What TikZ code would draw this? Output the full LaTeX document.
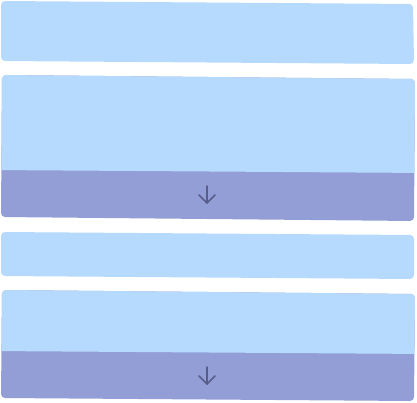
\documentclass[tikz,border=0pt]{standalone}
\definecolor{lightb}{RGB}{181,218,254}
\definecolor{darkb}{RGB}{148,158,214}
\definecolor{arrowc}{RGB}{88,94,138}
\tikzset{
  boxfill/.style={fill=lightb, rounded corners=4pt},
  lowfill/.style={fill=darkb, rounded corners=4pt},
  downarrow/.style={draw=arrowc, line width=1.5pt, line cap=round, line join=round}
}
\begin{document}
\begin{tikzpicture}[x=1pt,y=-1pt]
\useasboundingbox (0,0) rectangle (417,402);
% box 1
\fill[boxfill] (1,1) -- (413,4) -- (414,64) -- (1,61) -- cycle;
% box 2
\fill[lowfill] (2,75) -- (415,79) -- (414,221) -- (1,217) -- cycle;
\begin{scope}
  \clip (-10,-10) -- (430,-10) -- (430,173) -- (-10,170) -- cycle;
  \fill[boxfill] (2,75) -- (415,79) -- (414,221) -- (1,217) -- cycle;
\end{scope}
\coordinate (a1s) at (207,186);
\coordinate (a1e) at (207,203);
\draw[downarrow] (a1s) -- (a1e);
\draw[downarrow] ([xshift=-8pt,yshift=8pt]a1e) -- (a1e) -- ([xshift=8pt,yshift=8pt]a1e);
% box 3
\fill[boxfill] (1,232) -- (414,235) -- (414,279) -- (1,276) -- cycle;
% box 4
\fill[lowfill] (2,290) -- (415,294) -- (414,401) -- (1,398) -- cycle;
\begin{scope}
  \clip (-10,280) -- (430,280) -- (430,354) -- (-10,351) -- cycle;
  \fill[boxfill] (2,290) -- (415,294) -- (414,401) -- (1,398) -- cycle;
\end{scope}
\coordinate (a2s) at (207,367);
\coordinate (a2e) at (207,384);
\draw[downarrow] (a2s) -- (a2e);
\draw[downarrow] ([xshift=-8pt,yshift=8pt]a2e) -- (a2e) -- ([xshift=8pt,yshift=8pt]a2e);
\end{tikzpicture}
\end{document}
